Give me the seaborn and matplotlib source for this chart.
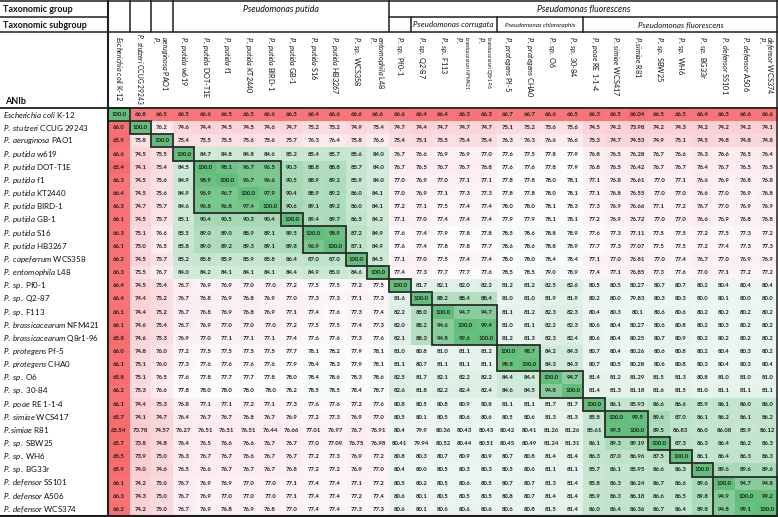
import numpy as np
import pandas as pd
import matplotlib
matplotlib.use("Agg")
import matplotlib.pyplot as plt
import seaborn as sns
from matplotlib.colors import LinearSegmentedColormap
from matplotlib.transforms import blended_transform_factory
from matplotlib.patches import Rectangle

sns.set_theme(style="white")
plt.rcParams['font.family'] = ['Lato', 'DejaVu Sans']
plt.rcParams['mathtext.fontset'] = 'custom'
plt.rcParams['mathtext.rm'] = 'Lato'
plt.rcParams['mathtext.it'] = 'Lato:italic'
plt.rcParams['mathtext.bf'] = 'Lato:bold'

# ---------------- data ----------------
row_species = ["Escherichia coli", "P. stutzeri", "P. aeruginosa", "P. putida", "P. putida", "P. putida",
               "P. putida", "P. putida", "P. putida", "P. putida", "P. putida", "P. capeferrum",
               "P. entomophila", "P. sp.", "P. sp.", "P. sp.", "P. brassicacearum", "P. brassicacearum",
               "P. protegens", "P. protegens", "P. sp.", "P. sp.", "P. poae", "P. simiae", "P.simiae",
               "P. sp.", "P. sp.", "P. sp.", "P. defensor", "P. defensor", "P. defensor"]
strains = ["K-12", "CCUG 29243", "PAO1", "w619", "DOT-T1E", "f1", "KT2440", "BIRD-1", "GB-1", "S16",
           "HB3267", "WCS358", "L48", "Pf0-1", "Q2-87", "F113", "NFM421", "Q8r1-96", "Pf-5", "CHA0",
           "O6", "30-84", "RE 1-1-4", "WCS417", "R81", "SBW25", "WH6", "BG33r", "SS101", "A506", "WCS374"]
col_species = ["Escherichia coli", "P. stutzeri", "P. aeruginosa", "P. putida", "P. putida", "P. putida",
               "P. putida", "P. putida", "P. putida", "P. putida", "P. putida", "P. sp.",
               "P. entomophila", "P. sp.", "P. sp.", "P. sp.", "P. brassicacearum", "P. brassicacearum",
               "P. protegens", "P. protegens", "P. sp.", "P. sp.", "P. poae", "P. simiae", "P.simiae",
               "P. sp.", "P. sp.", "P. sp.", "P. defensor", "P. defensor", "P. defensor"]

r00 = [100.0, 66.8, 66.5, 66.5, 66.6, 66.5, 66.5, 66.6, 66.5, 66.4, 66.6, 66.6, 66.6, 66.6, 66.4, 66.4, 66.3, 66.3, 66.7, 66.7, 66.6, 66.5, 66.3, 66.5, 66.04, 66.5, 66.5, 66.4, 66.5, 66.6, 66.6]
r01 = [66.0, 100.0, 76.2, 74.6, 74.4, 74.5, 74.5, 74.6, 74.7, 75.2, 75.2, 74.9, 75.4, 74.7, 74.4, 74.7, 74.7, 74.7, 75.1, 75.2, 75.6, 75.6, 74.5, 74.2, 73.98, 74.2, 74.3, 74.2, 74.2, 74.2, 74.1]
r02 = [65.9, 75.8, 100.0, 75.4, 75.5, 75.5, 75.6, 75.6, 75.7, 76.3, 76.4, 75.8, 76.6, 75.4, 75.1, 75.5, 75.4, 75.4, 76.3, 76.3, 76.6, 76.6, 75.3, 74.7, 74.53, 74.9, 75.1, 74.5, 74.8, 74.8, 74.8]
r03 = [66.6, 74.5, 75.5, 100.0, 84.7, 84.8, 84.8, 84.6, 85.2, 85.4, 85.7, 85.6, 84.0, 76.7, 76.6, 76.9, 76.9, 77.0, 77.6, 77.5, 77.8, 77.9, 76.8, 76.5, 76.28, 76.7, 76.6, 76.3, 76.6, 76.5, 76.4]
r04 = [65.4, 74.1, 75.4, 84.5, 100.0, 98.1, 96.7, 96.5, 90.3, 88.8, 88.8, 85.7, 84.0, 76.7, 76.5, 76.7, 76.7, 76.8, 77.6, 77.6, 77.8, 77.9, 76.8, 76.5, 76.42, 76.7, 76.7, 76.4, 76.7, 76.5, 76.5]
r05 = [66.3, 74.5, 75.6, 84.9, 98.9, 100.0, 96.7, 96.6, 90.5, 88.9, 89.2, 85.9, 84.0, 77.0, 76.9, 77.0, 77.1, 77.1, 77.8, 77.8, 78.0, 78.1, 77.1, 76.8, 76.61, 77.0, 77.1, 76.6, 76.9, 76.8, 76.8]
r06 = [66.4, 74.5, 75.6, 84.9, 96.9, 96.7, 100.0, 97.9, 90.4, 88.9, 89.2, 86.0, 84.1, 77.0, 76.9, 77.1, 77.3, 77.3, 77.8, 77.8, 78.0, 78.1, 77.1, 76.8, 76.55, 77.0, 77.0, 76.6, 77.0, 76.9, 76.8]
r07 = [66.3, 74.7, 75.7, 84.6, 96.8, 96.8, 97.4, 100.0, 90.6, 89.1, 89.2, 86.0, 84.1, 77.2, 77.1, 77.5, 77.4, 77.4, 78.0, 78.0, 78.1, 78.3, 77.3, 76.9, 76.66, 77.1, 77.2, 76.7, 77.0, 76.9, 76.9]
r08 = [66.1, 74.5, 75.7, 85.1, 90.4, 90.5, 90.3, 90.4, 100.0, 89.4, 89.7, 86.5, 84.2, 77.1, 77.0, 77.4, 77.4, 77.4, 77.9, 77.9, 78.1, 78.1, 77.2, 76.9, 76.72, 77.0, 77.0, 76.6, 76.9, 76.8, 76.8]
r09 = [66.3, 75.1, 76.6, 85.5, 89.0, 89.0, 88.9, 89.1, 89.5, 100.0, 98.9, 87.2, 84.9, 77.6, 77.4, 77.9, 77.8, 77.8, 78.5, 78.6, 78.8, 78.9, 77.6, 77.3, 77.11, 77.5, 77.5, 77.2, 77.5, 77.3, 77.2]
r10 = [66.1, 75.0, 76.5, 85.8, 89.0, 89.2, 89.3, 89.1, 89.8, 96.9, 100.0, 87.1, 84.9, 77.6, 77.4, 77.8, 77.8, 77.7, 78.6, 78.6, 78.8, 78.9, 77.7, 77.3, 77.07, 77.5, 77.5, 77.2, 77.4, 77.3, 77.3]
r11 = [66.2, 74.5, 75.7, 85.2, 85.8, 85.9, 85.9, 85.8, 86.4, 87.0, 87.0, 100.0, 84.5, 77.1, 77.0, 77.5, 77.4, 77.4, 78.0, 78.0, 78.4, 78.4, 77.1, 77.0, 76.81, 77.0, 77.4, 76.7, 77.0, 76.9, 76.9]
r12 = [66.3, 75.5, 76.7, 84.0, 84.2, 84.1, 84.1, 84.1, 84.4, 84.9, 85.0, 84.6, 100.0, 77.4, 77.3, 77.7, 77.7, 77.6, 78.5, 78.5, 79.0, 78.9, 77.4, 77.1, 76.85, 77.3, 77.6, 77.0, 77.1, 77.2, 77.2]
r13 = [66.4, 74.5, 75.4, 76.7, 76.9, 76.9, 77.0, 77.0, 77.2, 77.5, 77.5, 77.2, 77.5, 100.0, 81.7, 82.1, 82.0, 82.2, 81.2, 81.2, 82.5, 82.6, 80.5, 80.5, 80.27, 80.7, 80.7, 80.2, 80.4, 80.4, 80.4]
r14 = [66.4, 74.4, 75.2, 76.7, 76.8, 76.9, 76.8, 76.9, 77.0, 77.3, 77.3, 77.1, 77.3, 81.6, 100.0, 88.2, 88.4, 88.4, 81.0, 81.0, 81.9, 81.9, 80.2, 80.0, 79.83, 80.3, 80.3, 80.0, 80.1, 80.0, 80.0]
r15 = [66.1, 74.4, 75.2, 76.7, 76.8, 76.9, 76.8, 76.9, 77.1, 77.4, 77.6, 77.3, 77.4, 82.2, 88.0, 100.0, 94.7, 94.7, 81.1, 81.2, 82.3, 82.3, 80.4, 80.3, 80.1, 80.6, 80.6, 80.2, 80.2, 80.2, 80.2]
r16 = [66.1, 74.6, 75.4, 76.7, 76.9, 77.0, 77.0, 77.0, 77.2, 77.5, 77.5, 77.4, 77.3, 82.0, 88.2, 94.6, 100.0, 99.4, 81.0, 81.1, 82.2, 82.3, 80.6, 80.4, 80.27, 80.6, 80.8, 80.2, 80.3, 80.2, 80.2]
r17 = [65.8, 74.6, 75.3, 76.9, 77.0, 77.1, 77.1, 77.1, 77.4, 77.6, 77.6, 77.3, 77.6, 82.1, 88.3, 94.8, 99.6, 100.0, 81.2, 81.3, 82.3, 82.4, 80.6, 80.4, 80.25, 80.7, 80.9, 80.2, 80.2, 80.2, 80.2]
r18 = [66.0, 74.8, 76.0, 77.2, 77.5, 77.5, 77.5, 77.5, 77.7, 78.1, 78.2, 77.9, 78.1, 81.0, 80.8, 81.0, 81.1, 81.2, 100.0, 98.7, 84.2, 84.3, 80.7, 80.4, 80.26, 80.6, 80.8, 80.2, 80.4, 80.3, 80.2]
r19 = [66.1, 75.1, 76.0, 77.3, 77.6, 77.6, 77.6, 77.6, 77.9, 78.4, 78.3, 77.9, 78.1, 81.1, 80.7, 81.1, 81.1, 81.1, 98.8, 100.0, 84.3, 84.3, 80.7, 80.5, 80.28, 80.6, 80.8, 80.3, 80.4, 80.3, 80.4]
r20 = [65.8, 75.1, 76.5, 77.6, 77.8, 77.7, 77.7, 77.8, 78.0, 78.4, 78.6, 78.3, 78.6, 82.5, 81.7, 82.1, 82.2, 82.2, 84.4, 84.4, 100.0, 94.7, 81.4, 81.2, 81.29, 81.5, 81.3, 80.8, 81.0, 81.0, 81.0]
r21 = [66.2, 75.3, 76.6, 77.8, 78.0, 78.0, 78.0, 78.0, 78.2, 78.5, 78.5, 78.4, 78.7, 82.6, 81.8, 82.2, 82.4, 82.4, 84.6, 84.5, 94.8, 100.0, 81.4, 81.3, 81.18, 81.6, 81.5, 81.0, 81.1, 81.1, 81.1]
r22 = [66.1, 74.4, 75.3, 76.8, 77.1, 77.1, 77.2, 77.1, 77.3, 77.6, 77.6, 77.2, 77.6, 80.8, 80.5, 80.8, 80.9, 80.8, 81.1, 81.1, 81.7, 81.7, 100.0, 86.1, 85.93, 86.6, 86.6, 85.9, 86.1, 86.0, 86.0]
r23 = [65.7, 74.1, 74.7, 76.4, 76.7, 76.7, 76.8, 76.7, 76.9, 77.2, 77.3, 76.9, 77.0, 80.5, 80.1, 80.5, 80.6, 80.6, 80.5, 80.6, 81.3, 81.3, 85.8, 100.0, 99.5, 89.6, 87.0, 86.1, 86.2, 86.1, 86.2]
r24 = [65.54, 73.78, 74.57, 76.27, 76.51, 76.51, 76.51, 76.44, 76.66, 77.01, 76.97, 76.7, 76.91, 80.4, 79.9, 80.36, 80.43, 80.43, 80.42, 80.41, 81.26, 81.26, 85.61, 99.5, 100.0, 89.5, 86.83, 86.0, 86.08, 85.9, 86.12]
r25 = [65.7, 73.8, 74.8, 76.4, 76.5, 76.6, 76.6, 76.7, 76.7, 77.0, 77.09, 76.75, 76.98, 80.41, 79.94, 80.52, 80.44, 80.51, 80.45, 80.49, 81.24, 81.31, 86.1, 89.3, 89.19, 100.0, 87.3, 86.3, 86.4, 86.2, 86.3]
r26 = [65.5, 73.9, 75.0, 76.3, 76.7, 76.7, 76.6, 76.7, 76.7, 77.2, 77.3, 76.9, 77.2, 80.8, 80.3, 80.7, 80.9, 80.9, 80.7, 80.8, 81.4, 81.4, 86.3, 87.0, 86.96, 87.5, 100.0, 86.1, 86.4, 86.3, 86.3]
r27 = [65.9, 74.0, 74.6, 76.5, 76.6, 76.7, 76.7, 76.7, 76.8, 77.2, 77.2, 76.9, 77.0, 80.4, 80.0, 80.5, 80.3, 80.3, 80.5, 80.6, 81.1, 81.1, 85.7, 86.1, 85.95, 86.6, 86.3, 100.0, 89.6, 89.6, 89.6]
r28 = [66.1, 74.2, 75.0, 76.7, 76.9, 76.9, 77.0, 77.0, 77.1, 77.4, 77.4, 77.1, 77.2, 80.5, 80.2, 80.5, 80.6, 80.5, 80.7, 80.7, 81.3, 81.4, 85.8, 86.3, 86.24, 86.7, 86.6, 89.6, 100.0, 94.7, 94.8]
r29 = [66.3, 74.3, 75.0, 76.7, 76.9, 77.0, 77.0, 77.0, 77.1, 77.4, 77.4, 77.2, 77.4, 80.6, 80.1, 80.5, 80.5, 80.5, 80.8, 80.7, 81.4, 81.4, 85.9, 86.3, 86.18, 86.6, 86.5, 89.8, 94.9, 100.0, 99.2]
r30 = [66.2, 74.2, 75.0, 76.7, 76.9, 76.8, 76.9, 76.8, 77.0, 77.4, 77.4, 77.3, 77.3, 80.6, 80.1, 80.6, 80.6, 80.6, 80.6, 80.8, 81.5, 81.4, 86.0, 86.4, 86.36, 86.7, 86.4, 89.8, 94.8, 99.1, 100.0]

anib_rows = [r00, r01, r02, r03, r04, r05, r06, r07, r08, r09, r10, r11, r12, r13, r14, r15,
             r16, r17, r18, r19, r20, r21, r22, r23, r24, r25, r26, r27, r28, r29, r30]

# sizes of the outlined same-species blocks along the diagonal
block_sizes = [1, 1, 1, 1, 4, 1, 2, 1, 1, 1, 1, 3, 2, 2, 1, 2, 1, 1, 1, 3]

group_labels = ["Pseudomonas putida", "Pseudomonas fluorescens"]
group_spans = [(3, 13), (13, 31)]
subgroup_labels = ["Pseudomonas corrugata", "Pseudomonas chlororaphis", "Pseudomonas fluorescens"]
subgroup_spans = [(14, 18), (18, 22), (22, 31)]
wrapped_cols = [2, 12, 16, 17, 30]

# ---------------- build ----------------
row_names = [f"{s} {t}" for s, t in zip(row_species, strains)]
col_names = [f"{s} {t}" for s, t in zip(col_species, strains)]
df = pd.DataFrame(anib_rows, index=row_names, columns=col_names)
M = df.values


def fmt(v):
    s = f"{v:.2f}"
    return f"{v:.1f}" if s.endswith("0") else s


annot = np.vectorize(fmt)(M)

vals = M.flatten()
vmin, vmax = vals.min(), vals.max()
mid = np.percentile(vals, 50)
pos = (mid - vmin) / (vmax - vmin)
cmap = LinearSegmentedColormap.from_list("rwg", [(0, "#F8696B"), (pos, "#FCFCFF"), (1, "#63BE7B")])

W_PX, H_PX = 778, 517
L, T, B = 108, 108, 516
fig = plt.figure(figsize=(W_PX / 100, H_PX / 100), dpi=100)
fig.patch.set_facecolor("white")
ax = fig.add_axes([L / W_PX, (H_PX - B) / H_PX, (W_PX - L) / W_PX, (B - T) / H_PX])
sns.heatmap(df, ax=ax, cmap=cmap, vmin=vmin, vmax=vmax, annot=annot, fmt="", cbar=False,
            xticklabels=False, yticklabels=False, linewidths=0,
            annot_kws=dict(fontsize=4.3, fontweight="bold", color="#1c1c1c"))
ax.set_xlabel("")
ax.set_ylabel("")

# outlined diagonal blocks
start = 0
for nb in block_sizes:
    ax.add_patch(Rectangle((start, start), nb, nb, fill=False, ec="#2b2b2b", lw=1.3,
                           clip_on=False, zorder=5))
    start += nb

n = len(strains)
tr_row = blended_transform_factory(fig.transFigure, ax.transData)
tr_col = blended_transform_factory(ax.transData, fig.transFigure)


def it(s):
    return r"$\it{" + s.replace(" ", r"\ ") + "}$"


# row labels
for r in range(n):
    ax.text(3 / W_PX, r + 0.5, it(row_species[r]) + " " + strains[r], transform=tr_row,
            ha="left", va="center", fontsize=5.8, color="#111111", clip_on=False)

# column labels (rotated, reading downward)
CFS = 5.2
for c in range(n):
    sp = col_species[c]
    ytop = 1 - (33 if c == 1 else 36) / H_PX
    if c in wrapped_cols:
        rest = sp[3:]
        fs = 3.5 if "brassicacearum" in sp else CFS
        ax.text(c + 0.24, ytop, it("P."), transform=tr_col, rotation=270, ha="center", va="top",
                fontsize=CFS, color="#111111", clip_on=False)
        ax.text(c + 0.6, ytop, it(rest) + " " + strains[c], transform=tr_col, rotation=270,
                ha="center", va="top", fontsize=fs, color="#111111", clip_on=False)
    else:
        fs = 4.8 if c == 1 else CFS
        ax.text(c + 0.5, ytop, it(sp) + " " + strains[c], transform=tr_col, rotation=270,
                ha="center", va="top", fontsize=fs, color="#111111", clip_on=False)

# header texts
ax.text(3 / W_PX, 1 - 9 / H_PX, "Taxonomic group", transform=fig.transFigure, ha="left", va="center",
        fontsize=6.5, fontweight="bold", color="#111111")
ax.text(3 / W_PX, 1 - 25 / H_PX, "Taxonomic subgroup", transform=fig.transFigure, ha="left",
        va="center", fontsize=6.5, fontweight="bold", color="#111111")
ax.text(5 / W_PX, 1 - 101 / H_PX, "ANIb", transform=fig.transFigure, ha="left", va="center",
        fontsize=6.5, fontweight="bold", color="#111111")
for lab, (a, b) in zip(group_labels, group_spans):
    ax.text((a + b) / 2, 1 - 9 / H_PX, lab, transform=tr_col, ha="center", va="center",
            fontsize=6.3, style="italic", color="#111111")
for lab, (a, b) in zip(subgroup_labels, subgroup_spans):
    fs = 4.6 if "chlororaphis" in lab else 5.8
    ax.text((a + b) / 2, 1 - 25 / H_PX, lab, transform=tr_col, ha="center", va="center",
            fontsize=fs, style="italic", color="#111111")

# header grid lines
hx = fig.add_axes([0, 0, 1, 1])
hx.set_xlim(0, W_PX)
hx.set_ylim(H_PX, 0)
hx.axis("off")
hx.patch.set_alpha(0)
hx.set_zorder(3)
cw = (W_PX - L) / n


def xc(i):
    return L + i * cw


lc = "#1e1e1e"
lw = 1.1
hx.plot([0, W_PX], [0.6, 0.6], color=lc, lw=lw)
hx.plot([0, L], [17, 17], color=lc, lw=lw)
hx.plot([xc(13), W_PX], [17, 17], color=lc, lw=lw)
hx.plot([0, W_PX], [32, 32], color=lc, lw=lw)
hx.plot([0, W_PX], [T, T], color=lc, lw=1.3)
hx.plot([0, W_PX], [B, B], color=lc, lw=1.5)
hx.plot([L, L], [0, B], color=lc, lw=1.5)
hx.plot([W_PX - 0.6, W_PX - 0.6], [0, B], color=lc, lw=lw)
for i in (1, 2, 3, 13):
    hx.plot([xc(i), xc(i)], [0, 32], color=lc, lw=lw)
for i in (14, 18, 22):
    hx.plot([xc(i), xc(i)], [17, 32], color=lc, lw=lw)

fig.savefig("out.png", dpi=100)
